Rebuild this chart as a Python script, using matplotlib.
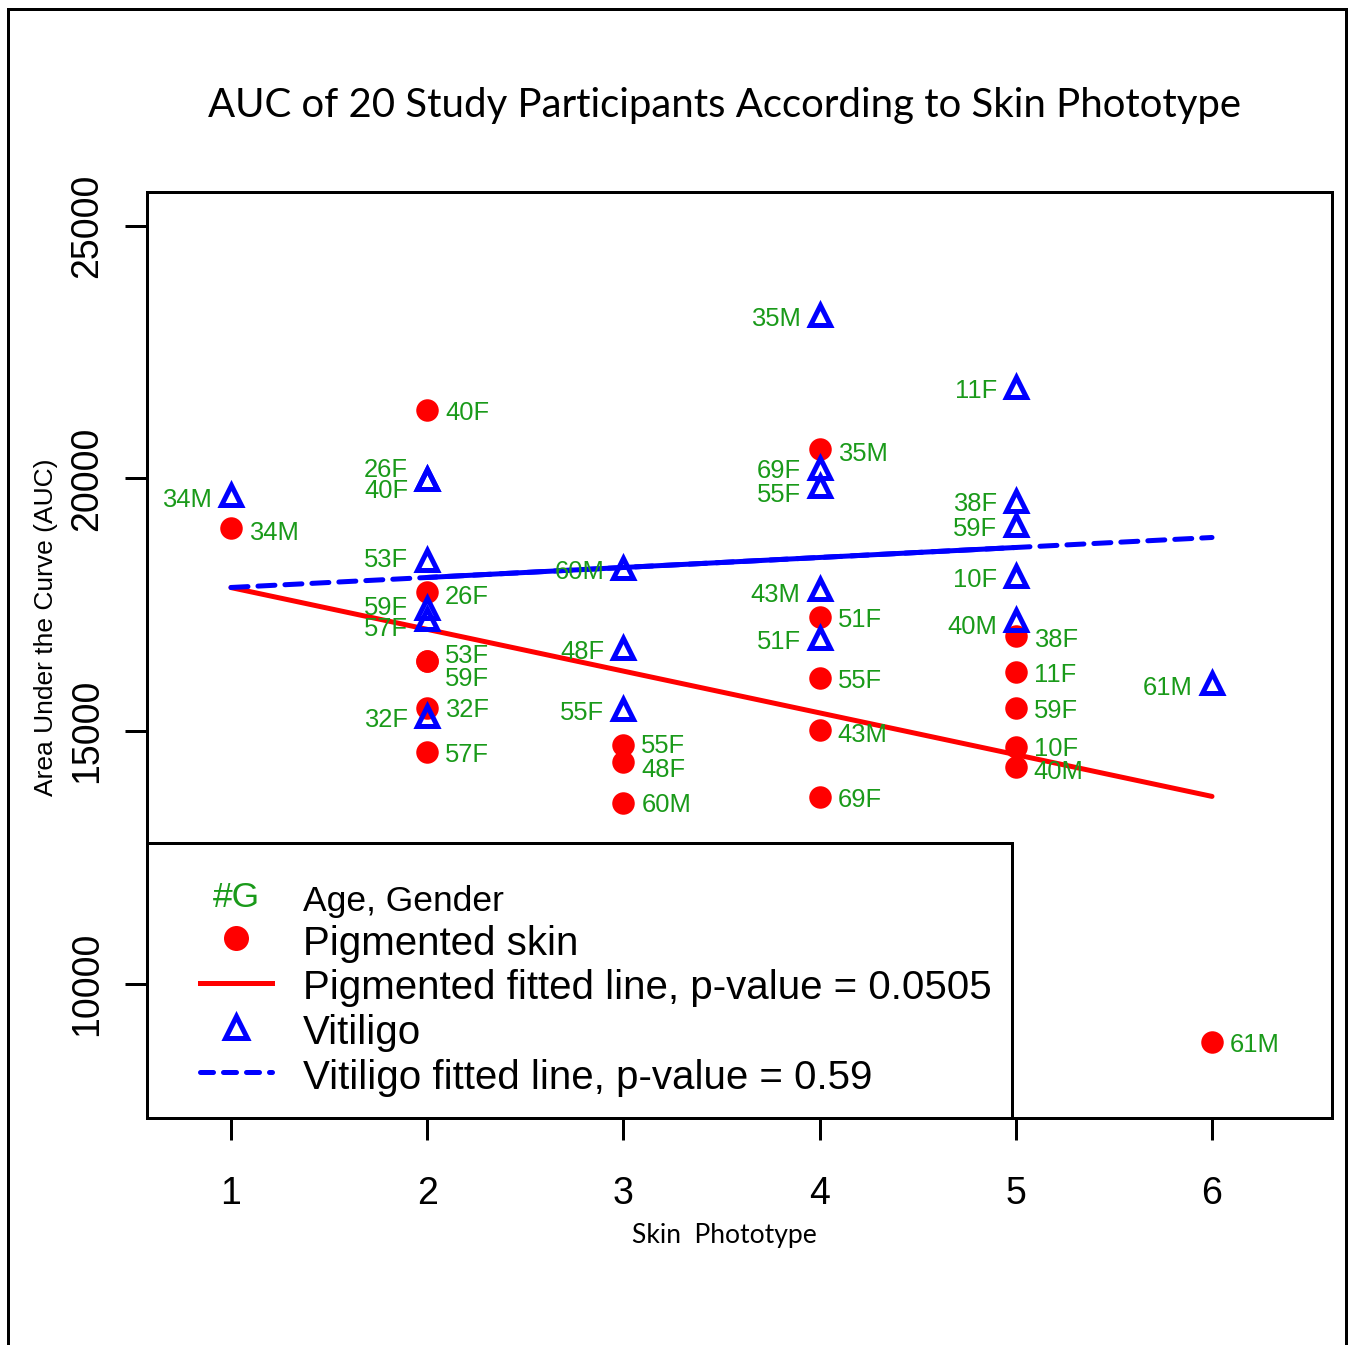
import matplotlib
matplotlib.use("Agg")
import matplotlib.pyplot as plt
import numpy as np
from matplotlib.lines import Line2D
from matplotlib.patches import Rectangle
from matplotlib.legend_handler import HandlerBase
import matplotlib.text as mtext

# ---------------- data ----------------
phototype_pig = [1, 2, 2, 2, 2, 2, 2, 3, 3, 3, 4, 4, 4, 4, 4, 5, 5, 5, 5, 5, 6]
auc_pig = [19010, 21347, 17743, 16390, 16382, 15465, 14584, 14713, 14386, 13584,
           20580, 17250, 16051, 15020, 13687, 16891, 16168, 15465, 14683, 14287, 8832]
labels_pig = ['34M', '40F', '26F', '53F', '59F', '32F', '57F', '55F', '48F', '60M',
              '35M', '51F', '55F', '43M', '69F', '38F', '11F', '59F', '10F', '40M', '61M']

phototype_vit = [1, 2, 2, 2, 2, 2, 2, 3, 3, 3, 4, 4, 4, 4, 4, 5, 5, 5, 5, 5, 6]
auc_vit = [19673, 19995, 19985, 18396, 17436, 17218, 15297, 18218, 16634, 15436,
           23234, 20200, 19853, 17804, 16848, 21812, 19554, 19089, 18069, 17198, 15941]
labels_vit = ['34M', '26F', '40F', '53F', '59F', '57F', '32F', '60M', '48F', '55F',
              '35M', '69F', '55F', '43M', '51F', '11F', '38F', '59F', '10F', '40M', '61M']

fit_x = [1, 6]
pig_fit_y = [17840, 13705]
vit_fit_y = [17842, 18832]
vit_solid_x = [2, 5]

x_ticks = [1, 2, 3, 4, 5, 6]
y_ticks = [10000, 15000, 20000, 25000]

# label vertical nudges (pixels, + = down) to keep stacked labels readable
pig_dy_px = [2, 0, 2, -7, 15, 0, 0.5, -2, 5, 0, 2, 0, 0.6, 2.5, 0, 1.5, 0.5, 1, -1, 2.5, 0]
vit_dy_px = [2.5, -11.5, 9.5, -2, -2.5, 8, 1.5, 1, 1, 1.5, 1, 0, 6.5, 3, 2, 1.5, 0.5, 2, 1.5, 4.5, 2]

# ---------------- style ----------------
W, H, DPI = 1353, 1345, 100
GREEN = '#1A9A1A'
RED = '#FF0000'
BLUE = '#0000FF'
ARIAL = 'Liberation Sans'
CAL = 'Lato'
PX = 72.0 / DPI  # points per pixel

fig = plt.figure(figsize=(W / DPI, H / DPI), dpi=DPI)


def fx(px):
    return px / W


def fy(py):
    return 1 - py / H


AX_L, AX_R, AX_T, AX_B = 147, 1332, 192, 1118
ax = fig.add_axes([fx(AX_L), fy(AX_B), fx(AX_R) - fx(AX_L), fy(AX_T) - fy(AX_B)])


def axx(px):
    return (px - AX_L) / (AX_R - AX_L)


def axy(py):
    return (AX_B - py) / (AX_B - AX_T)


ax.set_xlim(0.5719, 6.6116)
ax.set_ylim(7337, 25673)

for s in ax.spines.values():
    s.set_linewidth(3 * PX)
    s.set_color('black')

ax.set_xticks(x_ticks)
ax.set_yticks(y_ticks)
ax.set_xticklabels([str(v) for v in x_ticks], fontfamily=ARIAL, fontsize=27)
ax.set_yticklabels([str(v) for v in y_ticks], fontfamily=ARIAL, fontsize=27,
                   rotation=90, va='center')
ax.tick_params(axis='both', length=22 * PX, width=3 * PX, color='black', direction='out')
ax.tick_params(axis='x', pad=36 * PX)
ax.tick_params(axis='y', pad=20 * PX)

# fitted lines
ax.plot(fit_x, pig_fit_y, color=RED, lw=5 * PX, solid_capstyle='round', zorder=2)
ax.plot(fit_x, vit_fit_y, color=BLUE, lw=5 * PX, dashes=(3.4, 2.0),
        dash_capstyle='round', zorder=2)
ax.plot(vit_solid_x, np.interp(vit_solid_x, fit_x, vit_fit_y), color=BLUE,
        lw=5 * PX, solid_capstyle='round', zorder=2)

# points
ax.plot(phototype_pig, auc_pig, ls='none', marker='o', ms=22.5 * PX, mfc=RED, mec=RED,
        mew=0, zorder=3)
ax.plot(phototype_vit, auc_vit, ls='none', marker='^', ms=20.5 * PX, mfc='none', mec=BLUE,
        mew=5 * PX, zorder=3.5)

# labels
for x, y, t, d in zip(phototype_pig, auc_pig, labels_pig, pig_dy_px):
    ax.annotate(t, (x, y), xytext=(18 * PX, -d * PX), textcoords='offset points',
                ha='left', va='center_baseline', color=GREEN, fontsize=18.4,
                fontfamily=ARIAL, zorder=4)
for x, y, t, d in zip(phototype_vit, auc_vit, labels_vit, vit_dy_px):
    ax.annotate(t, (x, y), xytext=(-19 * PX, -d * PX), textcoords='offset points',
                ha='right', va='center_baseline', color=GREEN, fontsize=18.4,
                fontfamily=ARIAL, zorder=4)

# legend box
ax.add_patch(Rectangle((0, 0), axx(1012), axy(843), transform=ax.transAxes,
                       facecolor='white', edgecolor='black', lw=3 * PX, zorder=5,
                       clip_on=False))


class TextHandle:
    def __init__(self, text, color, size):
        self.text, self.color, self.size = text, color, size


class HandlerText(HandlerBase):
    def create_artists(self, legend, orig_handle, xdescent, ydescent, width, height,
                       fontsize, trans):
        t = mtext.Text(width / 2 - xdescent, height / 2 - ydescent, orig_handle.text,
                       color=orig_handle.color, fontsize=orig_handle.size,
                       fontfamily=ARIAL, ha='center', va='center', transform=trans)
        return [t]


handles = [
    TextHandle('#G', GREEN, 25.5),
    Line2D([], [], ls='none', marker='o', ms=25 * PX, mfc=RED, mec=RED, mew=0),
    Line2D([], [], color=RED, lw=5 * PX),
    Line2D([], [], ls='none', marker='^', ms=22 * PX, mfc='none', mec=BLUE, mew=5 * PX),
    Line2D([], [], color=BLUE, lw=5 * PX, dashes=(2.6, 2.0), dash_capstyle='round'),
]
leg_labels = ['Age, Gender', 'Pigmented skin', 'Pigmented fitted line, p-value = 0.0505',
              'Vitiligo', 'Vitiligo fitted line, p-value = 0.59']
leg = ax.legend(handles, leg_labels, loc='upper left',
                bbox_to_anchor=(axx(200), axy(878)), bbox_transform=ax.transAxes,
                frameon=False, borderpad=0, borderaxespad=0, handlelength=1.79,
                handletextpad=0.77, labelspacing=0.09, handleheight=1.1,
                prop={'family': ARIAL, 'size': 29},
                handler_map={TextHandle: HandlerText()})
leg.set_zorder(6)
leg.get_texts()[0].set_fontsize(25.5)

# titles / axis labels
title = fig.text(fx(725), fy(117), 'AUC of 20 Study Participants According to Skin Phototype',
                 ha='center', va='baseline', fontsize=28, fontfamily=CAL)
xlab = fig.text(fx(724.5), fy(1243), 'Skin  Phototype', ha='center', va='baseline',
                fontsize=17, fontfamily=CAL)
ylab = fig.text(fx(46), fy(627), 'Area Under the Curve (AUC)', ha='center', va='center',
                rotation=90, fontsize=19, fontfamily=ARIAL)

# fit text widths to the reference
fig.canvas.draw()
for t, target in [(title, 1034), (xlab, 185)]:
    bb = t.get_window_extent()
    t.set_fontsize(t.get_fontsize() * target / bb.width)

# outer frame
fig.add_artist(Rectangle((fx(8), -0.02), fx(1346) - fx(8), fy(9) + 0.02,
                         transform=fig.transFigure, fill=False, edgecolor='black',
                         lw=3 * PX))

fig.savefig('out.png', dpi=DPI)
